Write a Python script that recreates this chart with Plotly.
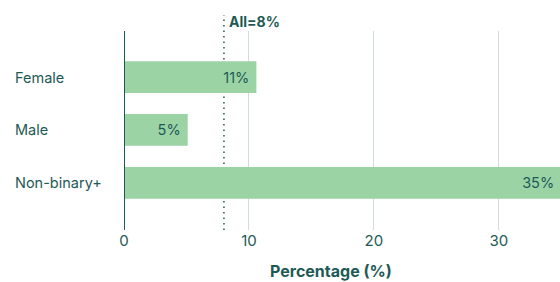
import plotly.graph_objects as go

categories = ["Female", "Male", "Non-binary+"]
values = [10.6, 5.1, 35.0]
labels = ["11%", "5%", "35%"]
overall = 8.0
overall_label = "All=8%"
x_ticks = [0, 10, 20, 30]

TEAL = "#1e5a55"
BAR = "#9bd3a5"
GRID = "#d3dcdc"
FONT = "Inter, Roboto, sans-serif"

ypos = list(range(len(categories)))

fig = go.Figure()
fig.add_trace(go.Bar(
    x=values, y=ypos, orientation="h",
    marker=dict(color=BAR, line=dict(width=0)),
    width=0.6,
    text=[t + "\u00a0" for t in labels], textposition="inside", insidetextanchor="end",
    textfont=dict(color=TEAL, size=14.5, family=FONT),
    cliponaxis=True,
    hoverinfo="skip",
))

fig.update_layout(
    width=560, height=282,
    margin=dict(l=124, r=0, t=31, b=52),
    plot_bgcolor="white", paper_bgcolor="white",
    showlegend=False,
    font=dict(family=FONT, color=TEAL, size=14),
    xaxis=dict(
        range=[0, 34.9], tickvals=x_ticks,
        showgrid=True, gridcolor=GRID, gridwidth=1,
        zeroline=False, showline=False, ticks="",
        tickfont=dict(size=15, color=TEAL, family=FONT),
        fixedrange=True,
    ),
    yaxis=dict(
        range=[2.89, -0.87], showticklabels=False, showgrid=False,
        zeroline=False, showline=False, ticks="", fixedrange=True,
    ),
)

# category labels (left-aligned)
for i, c in enumerate(categories):
    fig.add_annotation(x=-0.2546, xref="paper", y=i, yref="y", text=c,
                       showarrow=False, xanchor="left", yanchor="middle",
                       font=dict(size=14.5, color=TEAL, family=FONT))

# zero axis line
fig.add_shape(type="line", xref="x", yref="paper", x0=0, x1=0, y0=0, y1=1,
              line=dict(color=TEAL, width=2))

# overall dotted line (behind bars)
fig.add_shape(type="line", xref="x", yref="paper", x0=overall, x1=overall,
              y0=0, y1=1.08, layer="below",
              line=dict(color=TEAL, width=1.5, dash="1.5px,4px"))
fig.add_annotation(x=overall, xref="x", y=1.05, yref="paper", text="<b>" + overall_label + "</b>",
                   showarrow=False, xanchor="left", yanchor="middle", xshift=3,
                   font=dict(size=14, color=TEAL, family=FONT))

# axis title
fig.add_annotation(x=0.475, xref="paper", y=-0.206, yref="paper",
                   text="<b>Percentage (%)</b>", showarrow=False,
                   xanchor="center", yanchor="middle",
                   font=dict(size=16, color=TEAL, family=FONT))

fig.write_html("out.html", config={"displayModeBar": False},
               post_script="document.body.style.margin='0';document.body.style.padding='0';")
